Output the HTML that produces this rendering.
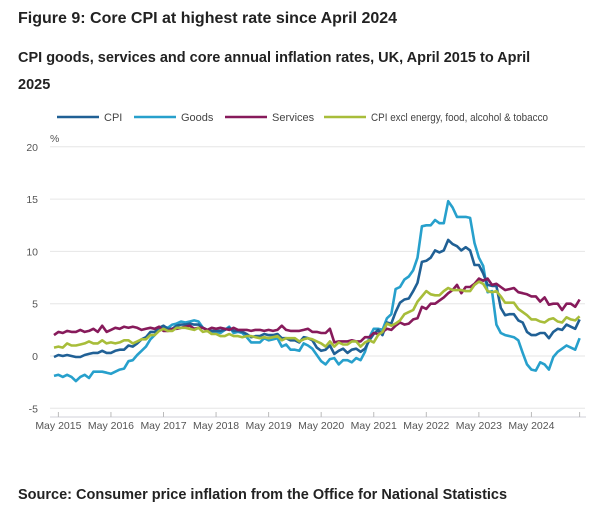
<!DOCTYPE html>
<html><head><meta charset="utf-8"><style>
body{margin:0;width:600px;height:515px;background:#fff;font-family:"Liberation Sans",sans-serif;color:#222;overflow:hidden}
.t{position:absolute;left:18px;font-weight:bold}
</style></head><body>
<div class="t" style="top:10px;font-size:16px">Figure 9: Core CPI at highest rate since April 2024</div>
<div class="t" style="top:45px;font-size:14.5px;line-height:27px;width:535px">CPI goods, services and core annual inflation rates, UK, April 2015 to April 2025</div>
<svg id="c" width="600" height="460" style="position:absolute;left:0;top:0"></svg>
<div class="t" style="top:487px;font-size:14.5px">Source: Consumer price inflation from the Office for National Statistics</div>
<script>
const yTicks=[20,15,10,5,0,-5];
const xTickLabels=["May 2015","May 2016","May 2017","May 2018","May 2019","May 2020","May 2021","May 2022","May 2023","May 2024"];
const seriesNames=["CPI","Goods","Services","CPI excl energy, food, alcohol & tobacco"];
const cpi=[-0.1,0.1,0.0,0.1,0.0,-0.1,-0.1,0.1,0.2,
0.3,0.3,0.5,0.3,0.3,0.5,0.6,0.6,1.0,0.9,1.2,1.6,
1.8,2.3,2.3,2.7,2.9,2.6,2.6,2.9,3.0,3.0,3.1,3.0,
3.0,2.7,2.5,2.4,2.4,2.4,2.5,2.7,2.4,2.4,2.3,2.1,
1.8,1.9,1.9,2.1,2.0,2.0,2.1,1.7,1.7,1.5,1.5,1.3,
1.8,1.7,1.5,0.8,0.5,0.6,1.0,0.2,0.5,0.7,0.3,0.6,
0.7,0.4,0.7,1.5,2.1,2.5,2.0,3.2,3.1,4.2,5.1,5.4,
5.5,6.2,7.0,9.0,9.1,9.4,10.1,9.9,10.1,11.1,10.7,10.5,
10.1,10.4,10.1,8.7,8.7,7.9,6.8,6.7,6.7,4.6,3.9,4.0,
4.0,3.4,3.2,2.3,2.0,2.0,2.2,2.2,1.7,2.3,2.6,2.5,
3.0,2.8,2.6,3.5];
const goods=[-1.9,-1.8,-2.0,-1.8,-2.0,-2.4,-2.0,-1.8,-2.1,
-1.5,-1.5,-1.5,-1.6,-1.7,-1.5,-1.3,-1.2,-0.5,-0.4,0.1,0.5,
0.9,1.6,2.0,2.6,2.8,2.7,3.0,3.1,3.3,3.2,3.3,3.4,
3.3,2.7,2.5,2.2,2.3,2.2,2.5,2.8,2.2,2.3,2.2,1.8,
1.3,1.3,1.3,1.7,1.5,1.6,1.7,0.9,1.1,0.6,0.6,0.5,
1.2,1.0,0.7,0.1,-0.5,-0.8,-0.3,-0.2,-0.8,-0.4,-0.4,-0.6,
-0.2,-0.4,0.4,1.8,2.6,2.6,2.5,3.6,4.0,6.4,6.6,7.3,
7.6,8.2,9.4,12.4,12.5,12.5,13.0,12.7,12.7,14.8,14.2,13.3,
13.3,13.3,13.2,10.8,9.4,8.6,6.1,6.2,3.0,2.2,2.0,1.9,
1.8,1.5,0.3,-0.8,-1.3,-1.4,-0.6,-0.8,-1.3,-0.1,0.4,0.7,
1.0,0.8,0.6,1.7];
const services=[2.0,2.3,2.2,2.4,2.3,2.3,2.5,2.3,2.4,
2.6,2.3,2.9,2.3,2.5,2.7,2.6,2.8,2.7,2.8,2.7,2.5,
2.6,2.7,2.6,2.8,2.4,2.4,2.6,2.6,2.7,2.8,2.9,2.6,
2.7,2.7,2.5,2.7,2.6,2.7,2.6,2.5,2.7,2.5,2.5,2.5,
2.4,2.5,2.5,2.4,2.5,2.4,2.5,2.9,2.5,2.4,2.4,2.4,
2.5,2.6,2.3,2.3,2.2,2.2,2.6,1.3,1.4,1.4,1.4,1.5,
1.4,1.4,1.8,1.8,2.2,2.1,2.3,2.6,2.5,2.9,3.2,3.0,
3.1,3.5,3.6,4.7,4.5,5.0,5.0,5.3,5.6,6.0,6.3,6.8,
6.0,6.6,6.6,6.9,7.4,7.2,7.4,6.8,6.9,6.6,6.3,6.4,
6.5,6.1,6.0,5.9,5.7,5.7,5.2,5.6,4.9,5.0,5.0,4.4,
5.0,5.0,4.7,5.4];
const core=[0.8,0.9,0.8,1.2,1.0,1.0,1.1,1.2,1.4,
1.2,1.2,1.5,1.2,1.3,1.2,1.3,1.5,1.5,1.2,1.4,1.6,
1.6,2.0,2.0,2.4,2.6,2.4,2.4,2.7,2.7,2.7,2.6,2.5,
2.7,2.3,2.4,2.1,2.1,1.9,1.9,2.1,1.9,1.9,1.8,1.9,
1.9,1.8,1.7,1.8,1.7,1.8,1.9,1.5,1.7,1.7,1.7,1.4,
1.6,1.7,1.6,1.4,1.2,0.9,1.4,0.9,1.3,1.1,1.1,1.4,
1.4,0.9,1.3,1.5,1.3,2.0,2.3,3.1,2.9,3.1,3.4,4.0,
4.2,4.4,5.2,5.7,6.2,5.9,5.8,5.8,6.2,6.5,6.3,6.3,
6.3,6.2,6.2,6.8,7.1,6.9,6.2,6.1,6.2,5.7,5.1,5.1,
5.1,4.5,4.2,3.9,3.5,3.5,3.3,3.2,3.5,3.6,3.3,3.2,
3.7,3.5,3.4,3.8];
const colors=["#206095","#27a0cc","#871a5b","#a8bd3a"];
const NS="http://www.w3.org/2000/svg",svg=document.getElementById('c');
function el(t,a,p){const e=document.createElementNS(NS,t);for(const k in a)e.setAttribute(k,a[k]);(p||svg).appendChild(e);return e;}
const x0=54,pxPerMonth=4.38;
function X(i){return x0+i*pxPerMonth;}
function Y(v){return 356-v*10.46;}
yTicks.forEach(v=>{
 const g=el('line',{x1:50,x2:585,y1:Y(v),y2:Y(v),stroke:'#e6e6e6','stroke-width':1});
 
 
 const t=el('text',{x:38,y:Y(v)+4,'text-anchor':'end','font-size':10.5,fill:'#555'});t.textContent=v;
 
 
});
const pct=el('text',{x:50,y:142,'font-size':10.5,fill:'#555'});pct.textContent='%';


const ax=el('line',{x1:50,x2:586,y1:417,y2:417,stroke:'#d0d0d8','stroke-width':1});


xTickLabels.forEach((l,k)=>{
 const xx=X(1+12*k);
 const tk=el('line',{x1:xx,x2:xx,y1:412,y2:417,stroke:'#bbb'});
 
 
 const t=el('text',{x:xx,y:429,'text-anchor':'middle','font-size':10.5,fill:'#555'});t.textContent=l;
 
 
});
const endTick=el('line',{x1:X(120),x2:X(120),y1:412,y2:417,stroke:'#bbb'});


const order=[goods,cpi,services,core],oc=[1,0,2,3];
order.forEach((s,j)=>{
 const k=oc[j];
 const p=el('polyline',{points:s.map((v,i)=>X(i).toFixed(1)+','+Y(v).toFixed(1)).join(' '),fill:'none',stroke:colors[k],'stroke-width':2.6,'stroke-linejoin':'round'});
 
 
});
const lx=[57,134,225,324];
seriesNames.forEach((n,k)=>{
 const g=el('g',{});
 
 
 el('line',{x1:lx[k],x2:lx[k]+42,y1:117,y2:117,stroke:colors[k],'stroke-width':2.6},g);
 const a={x:lx[k]+47,y:121,'font-size':11,fill:'#444'};
 if(k===3){a.textLength=177;a.lengthAdjust='spacingAndGlyphs';}
 const t=el('text',a,g);t.textContent=n;
});
</script>
</body></html>
